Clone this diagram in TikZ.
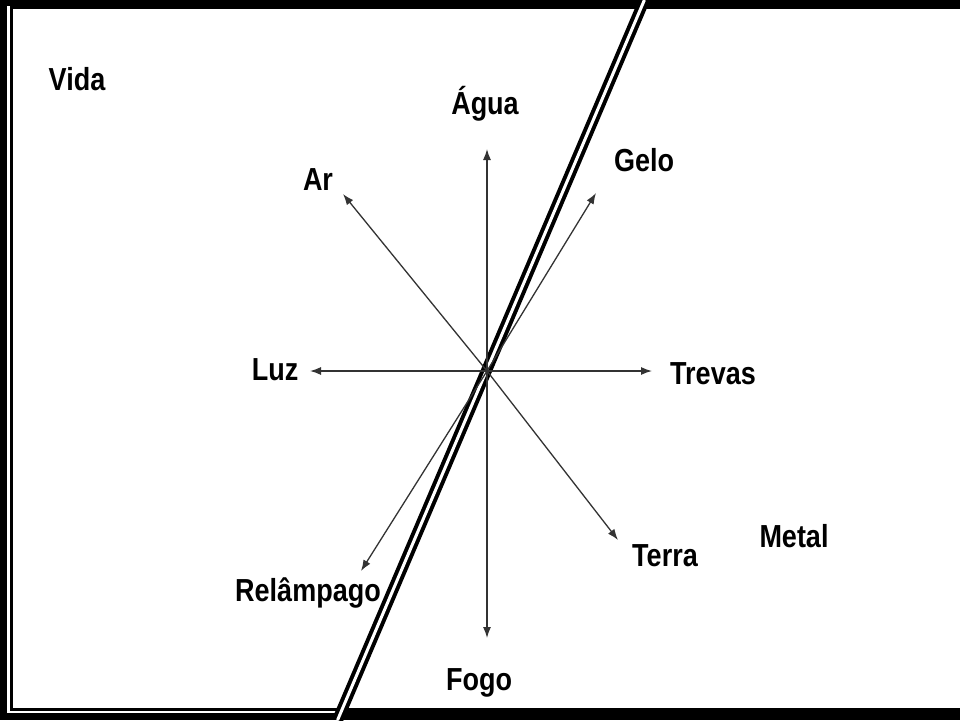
\documentclass[tikz,border=0pt]{standalone}
\usepackage{fontspec}
\setmainfont{Liberation Sans}
\usetikzlibrary{arrows.meta}
\newcommand\tall[1]{\scalebox{1}[1.18]{#1}}
\begin{document}
\begin{tikzpicture}[x=1pt,y=-1pt,axis/.style={draw=black!80,line width=1.3pt,-{Latex[length=11pt,width=8pt]}},lbl/.style={anchor=base,font=\bfseries\fontsize{27}{32}\selectfont,inner sep=0}]
\useasboundingbox(0,0)rectangle(960,720);
\fill[black](0,0)rectangle(960,720);
\fill[white](13,9)rectangle(960,708);
\draw[white,line width=2.5pt](8.3,6)--(8.3,712)--(342,712);
\draw[line width=4pt,double=white,double distance=3pt](644.4,0)--(337.6,720);
\coordinate(o)at(487,371);
\foreach \n/\x/\y in {agua/487/149,fogo/487/638,luz/310/371,trevas/652/371,ar/343/194,terra/618/540,gelo/596/193,relampago/361/571}{\coordinate(t\n)at(\x,\y);\draw[axis](o)--(t\n);}
\foreach \n/\x/\y/\t in {vida/77/90/Vida,agua/485/114/Água,ar/318/190/Ar,gelo/644/171/Gelo,luz/275/380/Luz,trevas/713/384/Trevas,terra/665/566/Terra,metal/794/547/Metal,relampago/308/601/Relâmpago,fogo/479/690/Fogo}\node[lbl](\n)at(\x,\y){\tall{\t}};
\end{tikzpicture}
\end{document}
